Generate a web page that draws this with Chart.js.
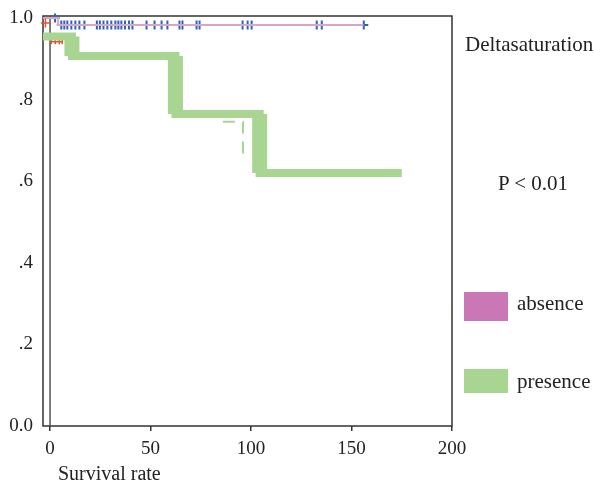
<!DOCTYPE html>
<html>
<head>
<meta charset="utf-8">
<script src="https://cdn.jsdelivr.net/npm/chart.js@4/dist/chart.umd.min.js"></script>
<style>
    html, body { margin: 0; padding: 0; background: #fff; }
    #wrap { position: relative; width: 594px; height: 485px; overflow: hidden; font-family: "Liberation Serif", "DejaVu Serif", serif; color: #222; }
    #wrap canvas { position: absolute; left: 0; top: 0; }
    .txt { position: absolute; font-size: 21px; white-space: nowrap; line-height: 1; }
    .box { position: absolute; width: 44px; }
</style>
</head>
<body>
<div id="wrap">
    <canvas id="km" width="594" height="485"></canvas>
    <div class="txt" style="left:465px; top:34px;">Deltasaturation</div>
    <div class="txt" style="left:498px; top:173px;">P &lt; 0.01</div>
    <div class="box" style="left:464px; top:292px; height:29px; background:#c977b5;"></div>
    <div class="txt" style="left:517px; top:293px;">absence</div>
    <div class="box" style="left:464px; top:369px; height:24px; background:#a8d591;"></div>
    <div class="txt" style="left:517px; top:371px;">presence</div>
    <div class="txt" style="left:58px; top:463px; font-size:20px;">Survival rate</div>
</div>
<script>
// Kaplan-Meier style survival curves

// absence group
const absenceTimes = [-3.5, 4, 156];
const absenceSurv = [1.0, 0.983, 0.983];
const absenceCensored = [2.5, 5.6, 7.1, 8.6, 10.6, 12.6, 14.6, 17.1, 23.3, 24.8, 26.6, 28.5, 30.5, 32.5, 34, 35.5, 37.3, 39.3, 41, 48, 52, 55.5, 58.4, 64.4, 65.9, 72.9, 74.4, 95.8, 98.3, 100.3, 132.7, 135.2, 156.1];

// presence group
const presenceTimes = [-3.5, 10.9, 62.4, 104.3, 175];
const presenceSurv = [0.955, 0.907, 0.765, 0.62, 0.62];
const presenceCensored = [0.6, 2.6, 4.6, 6.1];
const presenceCensorSurv = 0.942;
const presenceStartMark = [-2.3];
const presenceStartSurv = 0.988;

// thin dashed piece near the third drop
const dashTimes = [86, 96, 96];
const dashSurv = [0.746, 0.746, 0.66];

// axes
const xTicks = [0, 50, 100, 150, 200];
const yTicks = [0, 0.2, 0.4, 0.6, 0.8, 1.0];
const yTickLabels = ['0.0', '.2', '.4', '.6', '.8', '1.0'];

const GREEN = '#a8d591';
const PINK = '#d6a6cf';
const BLUE = '#2f63b6';
const RED = '#e8502e';

function survAt(times, surv, t) {
    let v = surv[0];
    for (let i = 0; i < times.length; i++) {
        if (times[i] <= t) v = surv[i];
    }
    return v;
}

const toPoints = (xs, ys) => xs.map((x, i) => ({ x: x, y: ys[i] }));

// vertical drops of the presence curve, drawn wider than the flats
const drops = [];
for (let i = 1; i < presenceTimes.length; i++) {
    if (presenceSurv[i] !== presenceSurv[i - 1]) {
        drops.push({ x: presenceTimes[i], y: presenceSurv[i - 1] });
        drops.push({ x: presenceTimes[i], y: presenceSurv[i] });
        drops.push({ x: presenceTimes[i], y: null });
    }
}

const framePlugin = {
    id: 'frame',
    beforeDatasetsDraw(chart) {
        const a = chart.chartArea;
        const c = chart.ctx;
        const x0 = chart.scales.x.getPixelForValue(0);
        c.save();
        c.strokeStyle = '#333';
        c.lineWidth = 1.5;
        c.strokeRect(a.left, a.top, a.right - a.left, a.bottom - a.top);
        c.beginPath();
        c.moveTo(x0, a.top);
        c.lineTo(x0, a.bottom);
        c.strokeStyle = '#555';
        c.stroke();
        c.restore();
    }
};

new Chart(document.getElementById('km'), {
    type: 'line',
    data: {
        datasets: [
            {
                label: 'presence',
                data: toPoints(presenceTimes, presenceSurv),
                stepped: true,
                borderColor: GREEN,
                borderWidth: 8,
                borderCapStyle: 'butt',
                borderJoinStyle: 'miter',
                pointRadius: 0,
                fill: false
            },
            {
                label: 'presence drops',
                data: drops,
                borderColor: GREEN,
                borderWidth: 15,
                borderCapStyle: 'butt',
                pointRadius: 0,
                spanGaps: false,
                fill: false
            },
            {
                label: 'presence dashed',
                data: toPoints(dashTimes, dashSurv),
                borderColor: GREEN,
                borderWidth: 2,
                borderDash: [12, 8],
                pointRadius: 0,
                fill: false
            },
            {
                label: 'presence censored',
                data: presenceCensored.map(t => ({ x: t, y: presenceCensorSurv })),
                borderColor: RED,
                borderWidth: 1.5,
                pointStyle: 'line',
                rotation: 90,
                pointRadius: 2.5,
                pointBorderColor: RED,
                showLine: true,
                clip: false
            },
            {
                label: 'presence start',
                data: presenceStartMark.map(t => ({ x: t, y: presenceStartSurv })),
                showLine: false,
                pointStyle: 'cross',
                pointRadius: 4.5,
                pointBorderColor: RED,
                pointBorderWidth: 1.5,
                clip: false
            },
            {
                label: 'absence',
                data: toPoints(absenceTimes, absenceSurv),
                stepped: true,
                borderColor: PINK,
                borderWidth: 2,
                pointRadius: 0,
                fill: false
            },
            {
                label: 'absence censored',
                data: absenceCensored.map(t => ({ x: t, y: survAt(absenceTimes, absenceSurv, t) })),
                showLine: false,
                pointStyle: 'cross',
                pointRadius: 4.5,
                pointBorderColor: BLUE,
                pointBorderWidth: 2,
                clip: false
            }
        ]
    },
    options: {
        responsive: false,
        animation: false,
        layout: { padding: { left: 0, right: 142, top: 16, bottom: 0 } },
        plugins: {
            legend: { display: false },
            tooltip: { enabled: false }
        },
        scales: {
            x: {
                type: 'linear',
                min: -3.5,
                max: 200,
                afterBuildTicks: function(scale) {
                    scale.ticks = xTicks.map(v => ({ value: v }));
                },
                afterFit: function(scale) {
                    scale.height = 59;
                    scale.paddingLeft = 0;
                    scale.paddingRight = 0;
                },
                grid: {
                    drawOnChartArea: false,
                    tickLength: 5,
                    color: '#333',
                    lineWidth: 1.5
                },
                border: { display: false },
                ticks: {
                    color: '#222',
                    padding: 7,
                    maxRotation: 0,
                    font: { family: 'Liberation Serif', size: 19 }
                }
            },
            y: {
                type: 'linear',
                min: 0,
                max: 1.005,
                afterBuildTicks: function(scale) {
                    scale.ticks = yTicks.map(v => ({ value: v }));
                },
                afterFit: function(scale) {
                    scale.width = 43;
                    scale.paddingTop = 0;
                    scale.paddingBottom = 0;
                },
                grid: { display: false, drawTicks: false, tickLength: 0 },
                border: { display: false },
                ticks: {
                    color: '#222',
                    padding: 10,
                    font: { family: 'Liberation Serif', size: 19 },
                    callback: function(value) {
                        const i = yTicks.indexOf(value);
                        return i >= 0 ? yTickLabels[i] : '';
                    }
                }
            }
        }
    },
    plugins: [framePlugin]
});
</script>
</body>
</html>
